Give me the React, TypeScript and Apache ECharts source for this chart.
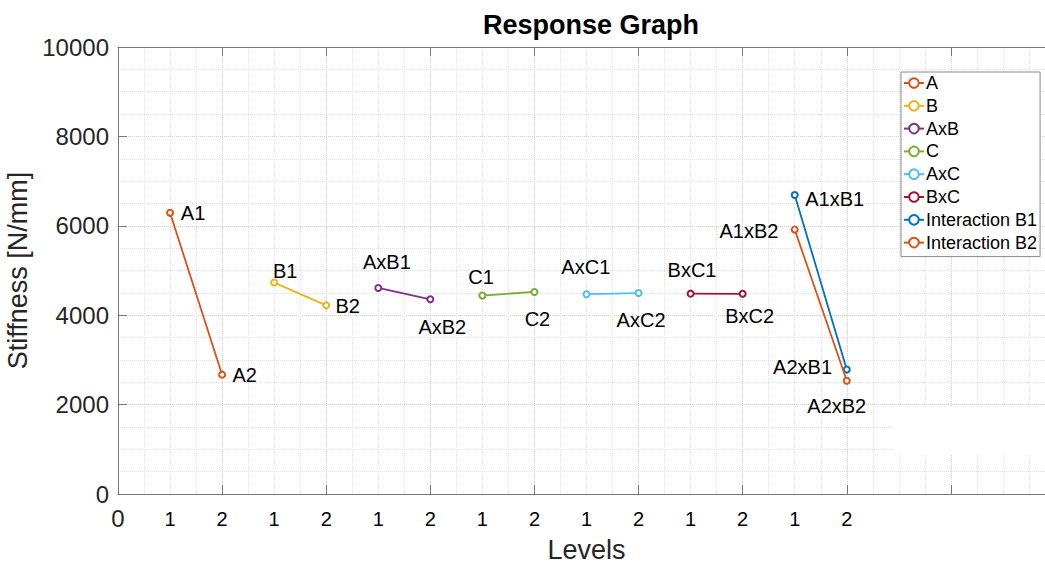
import React, { useEffect, useRef } from "react";
import * as echarts from "echarts";

const seriesNames = ["A", "B", "AxB", "C", "AxC", "BxC", "Interaction B1", "Interaction B2"];
const xLevels = [
  [1, 2],
  [3, 4],
  [5, 6],
  [7, 8],
  [9, 10],
  [11, 12],
  [13, 14],
  [13, 14],
];
const stiffness = [
  [6290, 2670],
  [4730, 4220],
  [4610, 4355],
  [4440, 4520],
  [4470, 4495],
  [4482, 4478],
  [6690, 2785],
  [5915, 2535],
];
const pointLabels = [
  ["A1", "A2"],
  ["B1", "B2"],
  ["AxB1", "AxB2"],
  ["C1", "C2"],
  ["AxC1", "AxC2"],
  ["BxC1", "BxC2"],
  ["A1xB1", "A2xB1"],
  ["A1xB2", "A2xB2"],
];
const levelTickLabels = ["1", "2"];
const lastLevelTick = 14;

// styling only: label offsets (px) relative to each marker's centre
const labelOffsets = [
  [[23, 0], [22.5, 0.7]],
  [[11, -11.6], [21.5, 0.7]],
  [[8.6, -26], [12, 28]],
  [[-1.4, -18.6], [3, 26.6]],
  [[-0.7, -27.3], [2.5, 27.3]],
  [[1.4, -24], [7, 21.7]],
  [[40, 3.6], [-44.2, -2.6]],
  [[-45.8, 1.4], [-10, 25.7]],
];
const colors = ["#D95319", "#EDB120", "#7E2F8E", "#77AC30", "#4DBEEE", "#A2142F", "#0072BD", "#D95319"];

const FONT = "'Liberation Sans', Arial, Helvetica, sans-serif";

export default function App() {
  const ref = useRef<HTMLDivElement>(null);
  useEffect(() => {
    if (!ref.current) return;
    const chart = echarts.init(ref.current, undefined, { renderer: "svg" });
    const series = seriesNames.map((name, i) => ({
      name,
      type: "line",
      xAxisIndex: 0,
      yAxisIndex: 0,
      symbol: "emptyCircle",
      symbolSize: 6,
      z: 3 + i,
      color: colors[i],
      lineStyle: { width: 1.8, color: colors[i] },
      itemStyle: { color: colors[i], borderWidth: 1.5 },
      data: xLevels[i].map((x, j) => ({
        value: [x, stiffness[i][j]],
        label: {
          show: true,
          formatter: pointLabels[i][j],
          position: "inside",
          offset: labelOffsets[i][j],
          align: "center",
          verticalAlign: "middle",
          color: "#000",
          fontSize: 20,
          fontFamily: FONT,
        },
      })),
    }));
    const axisLineStyle = { color: "#777", width: 1 };
    chart.setOption({
      animation: false,
      backgroundColor: "#fff",
      textStyle: { fontFamily: FONT },
      title: {
        text: "Response Graph",
        left: 586,
        top: 6,
        textAlign: "center",
        textStyle: { fontSize: 27, fontWeight: "bold", color: "#000", fontFamily: FONT },
      },
      legend: {
        orient: "vertical",
        left: 901,
        top: 72,
        itemWidth: 20,
        itemHeight: 12,
        itemGap: 4.8,
        padding: [2, 3, 5, 2],
        backgroundColor: "#fff",
        borderColor: "#888",
        borderWidth: 1,
        borderRadius: 0,
        textStyle: { fontSize: 18, color: "#000", fontFamily: FONT, padding: [0, 0, 0, -3], lineHeight: 18 },
        data: seriesNames,
      },
      grid: { left: 118, top: 47, bottom: 72, right: 5, containLabel: false, outerBoundsMode: "none" },
      xAxis: [
        {
          type: "value",
          position: "bottom",
          min: 0,
          max: 18,
          interval: 2,
          name: "Levels",
          nameLocation: "middle",
          nameGap: 42,
          nameTextStyle: { fontSize: 27, color: "#262626", fontFamily: FONT },
          axisLine: { show: true, lineStyle: axisLineStyle },
          axisTick: { show: true, inside: true, length: 9, lineStyle: axisLineStyle },
          axisLabel: {
            fontSize: 24,
            color: "#262626",
            margin: 12,
            formatter: (v: number) => (v === 0 ? "0" : ""),
          },
          splitLine: { show: true, lineStyle: { type: "dotted", color: "#d2d2d2" } },
          minorTick: { show: false, splitNumber: 4 },
          minorSplitLine: { show: true, lineStyle: { type: "dotted", color: "#e0e0e0" } },
        },
        {
          type: "value",
          position: "top",
          min: 0,
          max: 18,
          interval: 2,
          axisLine: { show: true, lineStyle: axisLineStyle },
          axisTick: { show: true, inside: true, length: 9, lineStyle: axisLineStyle },
          axisLabel: { show: false },
          splitLine: { show: false },
        },
        {
          type: "value",
          position: "bottom",
          min: 0,
          max: 18,
          interval: 1,
          axisLine: { show: false },
          axisTick: { show: false },
          axisLabel: {
            fontSize: 20,
            color: "#000",
            margin: 15,
            formatter: (v: number) =>
              v >= 1 && v <= lastLevelTick ? levelTickLabels[(v - 1) % 2] : "",
          },
          splitLine: { show: false },
        },
      ],
      yAxis: [
        {
          type: "value",
          min: 0,
          max: 10000,
          interval: 2000,
          name: "Stiffness [N/mm]",
          nameLocation: "middle",
          nameGap: 84,
          nameTextStyle: { fontSize: 27, color: "#262626", fontFamily: FONT },
          axisLine: { show: true, lineStyle: axisLineStyle },
          axisTick: { show: true, inside: true, length: 9, lineStyle: axisLineStyle },
          axisLabel: { fontSize: 24, color: "#262626", margin: 9, formatter: (v: number) => String(v) },
          splitLine: { show: true, lineStyle: { type: "dotted", color: "#d2d2d2" } },
          minorTick: { show: false, splitNumber: 4 },
          minorSplitLine: { show: true, lineStyle: { type: "dotted", color: "#e0e0e0" } },
        },
      ],
      graphic: [
        {
          type: "rect",
          z: 1,
          silent: true,
          shape: { x: 894, y: 407, width: 170, height: 47 },
          style: { fill: "#fff" },
        },
      ],
      series,
    });
    return () => chart.dispose();
  }, []);
  return (
    <div style={{ position: "fixed", left: 0, top: 0, width: 1045, height: 566, overflow: "hidden", background: "#fff" }}>
      <div ref={ref} style={{ width: 1060, height: 566 }} />
    </div>
  );
}
